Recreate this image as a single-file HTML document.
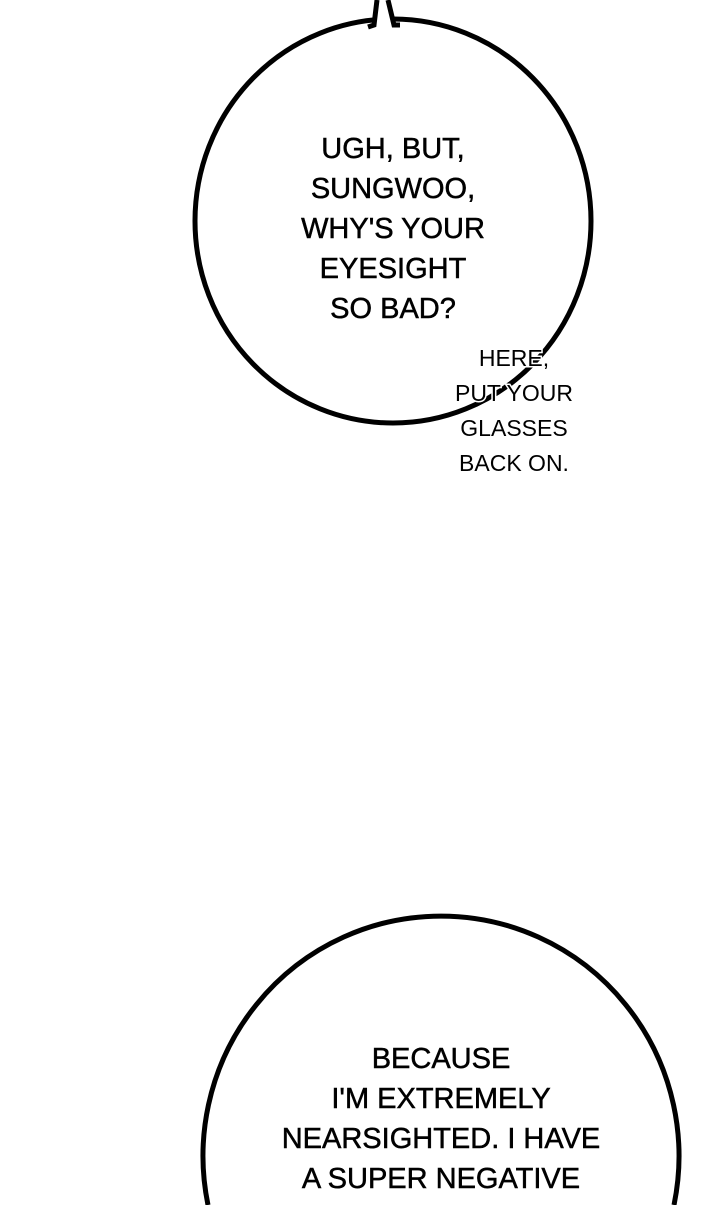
<!DOCTYPE html>
<html><head><style>
html,body{margin:0;padding:0;background:#fff;width:720px;height:1205px;overflow:hidden;}
svg{display:block}
</style></head><body>
<svg width="720" height="1205" viewBox="0 0 720 1205" xmlns="http://www.w3.org/2000/svg">
<rect width="720" height="1205" fill="#fff"/>
<ellipse cx="393" cy="221" rx="198" ry="202" fill="#fff" stroke="#000" stroke-width="5"/>
<polygon points="377,0 388,0 394,26 373,26" fill="#fff"/>
<polyline points="377,0 374,25 368,27" fill="none" stroke="#000" stroke-width="5" stroke-linejoin="miter"/>
<polyline points="388,0 394,25 400,25" fill="none" stroke="#000" stroke-width="5" stroke-linejoin="miter"/>
<g font-family="Liberation Sans, sans-serif" font-size="29" text-anchor="middle" fill="#000" stroke="#000" stroke-width="0.5">
<text x="393" y="158">UGH, BUT,</text>
<text x="393" y="198">SUNGWOO,</text>
<text x="393" y="238">WHY'S YOUR</text>
<text x="393" y="278">EYESIGHT</text>
<text x="393" y="318">SO BAD?</text>
</g>
<g font-family="Liberation Sans, sans-serif" font-size="23" text-anchor="middle" fill="#000" stroke="#fff" stroke-width="3" paint-order="stroke">
<text x="514" y="366">HERE,</text>
<text x="514" y="401">PUT YOUR</text>
<text x="514" y="436">GLASSES</text>
<text x="514" y="471">BACK ON.</text>
</g>
<path d="M208,1205 A238,240 0 1 1 674,1205" fill="#fff" stroke="#000" stroke-width="5"/>
<g font-family="Liberation Sans, sans-serif" font-size="29" text-anchor="middle" fill="#000" stroke="#000" stroke-width="0.5">
<text x="441" y="1068">BECAUSE</text>
<text x="441" y="1108">I'M EXTREMELY</text>
<text x="441" y="1148">NEARSIGHTED. I HAVE</text>
<text x="441" y="1188">A SUPER NEGATIVE</text>
</g>
</svg>
</body></html>
